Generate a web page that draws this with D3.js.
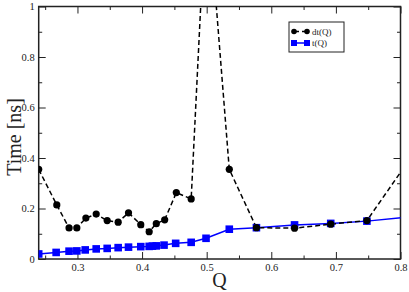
<!DOCTYPE html>
<html>
<head>
<meta charset="utf-8">
<script src="https://cdn.jsdelivr.net/npm/d3@7"></script>
<style>
  body { margin: 0; background: #fff; }
  svg { display: block; }
  text { font-family: "Liberation Serif", "DejaVu Serif", serif; }
</style>
</head>
<body>
<div id="graph"></div>
<script>
// dt(Q) series (black circles, dashed)
var dtQ   = [0.24, 0.268, 0.287, 0.299, 0.313, 0.329, 0.346, 0.363, 0.379, 0.398, 0.411, 0.422, 0.435, 0.453, 0.476, 0.5, 0.535, 0.577, 0.636, 0.692, 0.748, 0.81];
var dtVal = [0.355, 0.214, 0.123, 0.123, 0.162, 0.178, 0.152, 0.146, 0.183, 0.136, 0.108, 0.14, 0.155, 0.263, 0.238, 1.48, 0.355, 0.124, 0.122, 0.138, 0.152, 0.38];

// t(Q) series (blue squares, solid)
var tQ   = [0.24, 0.267, 0.287, 0.299, 0.312, 0.329, 0.346, 0.363, 0.379, 0.398, 0.411, 0.416, 0.422, 0.434, 0.452, 0.476, 0.499, 0.535, 0.577, 0.636, 0.692, 0.748, 0.81];
var tVal = [0.02, 0.026, 0.031, 0.032, 0.036, 0.04, 0.042, 0.045, 0.047, 0.049, 0.05, 0.051, 0.052, 0.055, 0.062, 0.066, 0.082, 0.118, 0.124, 0.135, 0.141, 0.15, 0.166];

var xTicks = [0.3, 0.4, 0.5, 0.6, 0.7, 0.8];
var yTicks = [0, 0.2, 0.4, 0.6, 0.8, 1];
var legendLabels = ["dt(Q)", "t(Q)"];

var width = 409, height = 292;
var margin = {left: 38.7, right: 8.5, top: 6.5, bottom: 33};

var svg = d3.select("#graph").append("svg")
  .attr("width", width)
  .attr("height", height);

var x = d3.scaleLinear().domain([0.24, 0.8]).range([margin.left, width - margin.right]);
var y = d3.scaleLinear().domain([0, 1]).range([height - margin.bottom, margin.top]);

svg.append("clipPath").attr("id", "clip")
  .append("rect")
  .attr("x", x(0.24)).attr("y", y(1))
  .attr("width", x(0.8) - x(0.24)).attr("height", y(0) - y(1));

var fmt = function(d) { return d === 0 ? "0" : d === 1 ? "1" : d3.format(".1f")(d); };
var minorX = d3.range(0.25, 0.801, 0.05).filter(function(d) { return Math.abs(d * 10 - Math.round(d * 10)) > 0.01; });
var minorY = [0.1, 0.3, 0.5, 0.7, 0.9];

// axes with inward ticks on all sides
function styleAxis(g) {
  g.select(".domain").remove();
  g.selectAll("line").attr("stroke", "#222").attr("stroke-width", 1);
  g.selectAll("text").attr("font-size", 10.5).attr("fill", "#222");
}

svg.append("g").attr("transform", "translate(0," + y(0) + ")")
  .call(d3.axisBottom(x).tickValues(xTicks).tickFormat(fmt).tickSizeInner(-7).tickPadding(5))
  .call(styleAxis);
svg.append("g").attr("transform", "translate(0," + y(0) + ")")
  .call(d3.axisBottom(x).tickValues(minorX).tickFormat("").tickSizeInner(-3.5))
  .call(styleAxis);
svg.append("g").attr("transform", "translate(0," + y(1) + ")")
  .call(d3.axisTop(x).tickValues(xTicks).tickFormat("").tickSizeInner(-7))
  .call(styleAxis);
svg.append("g").attr("transform", "translate(0," + y(1) + ")")
  .call(d3.axisTop(x).tickValues(minorX).tickFormat("").tickSizeInner(-3.5))
  .call(styleAxis);

svg.append("g").attr("transform", "translate(" + x(0.24) + ",0)")
  .call(d3.axisLeft(y).tickValues(yTicks).tickFormat(fmt).tickSizeInner(-7).tickPadding(4))
  .call(styleAxis);
svg.append("g").attr("transform", "translate(" + x(0.24) + ",0)")
  .call(d3.axisLeft(y).tickValues(minorY).tickFormat("").tickSizeInner(-3.5))
  .call(styleAxis);
svg.append("g").attr("transform", "translate(" + x(0.8) + ",0)")
  .call(d3.axisRight(y).tickValues(yTicks).tickFormat("").tickSizeInner(-7))
  .call(styleAxis);
svg.append("g").attr("transform", "translate(" + x(0.8) + ",0)")
  .call(d3.axisRight(y).tickValues(minorY).tickFormat("").tickSizeInner(-3.5))
  .call(styleAxis);

// frame
svg.append("rect")
  .attr("x", x(0.24)).attr("y", y(1))
  .attr("width", x(0.8) - x(0.24)).attr("height", y(0) - y(1))
  .attr("fill", "none").attr("stroke", "#222").attr("stroke-width", 1.5);

var plot = svg.append("g").attr("clip-path", "url(#clip)");

var dtData = dtQ.map(function(q, i) { return [q, dtVal[i]]; });
var tData = tQ.map(function(q, i) { return [q, tVal[i]]; });
var line = d3.line().x(function(d) { return x(d[0]); }).y(function(d) { return y(d[1]); });

// t(Q) blue line + squares
plot.append("path").datum(tData)
  .attr("d", line).attr("fill", "none")
  .attr("stroke", "#0000ff").attr("stroke-width", 1.5);

// dt(Q) dashed line
plot.append("path").datum(dtData)
  .attr("d", line).attr("fill", "none")
  .attr("stroke", "#000").attr("stroke-width", 1.5)
  .attr("stroke-dasharray", "5,3");

plot.selectAll(".sq").data(tData).enter().append("rect")
  .attr("x", function(d) { return x(d[0]) - 3.8; })
  .attr("y", function(d) { return y(d[1]) - 3.8; })
  .attr("width", 7.6).attr("height", 7.6)
  .attr("fill", "#0000ff");

plot.selectAll(".dot").data(dtData).enter().append("circle")
  .attr("cx", function(d) { return x(d[0]); })
  .attr("cy", function(d) { return y(d[1]); })
  .attr("r", 3.6)
  .attr("fill", "#000");

// legend
var lg = svg.append("g").attr("transform", "translate(289,22)");
lg.append("rect").attr("width", 55).attr("height", 30)
  .attr("fill", "#fff").attr("stroke", "#222").attr("stroke-width", 1);
lg.append("line").attr("x1", 5).attr("x2", 18).attr("y1", 9.5).attr("y2", 9.5)
  .attr("stroke", "#000").attr("stroke-width", 1.5).attr("stroke-dasharray", "5,3");
lg.selectAll(".lc").data([5, 18]).enter().append("circle")
  .attr("cx", function(d) { return d; }).attr("cy", 9.5).attr("r", 2.8).attr("fill", "#000");
lg.append("line").attr("x1", 5).attr("x2", 18).attr("y1", 21).attr("y2", 21)
  .attr("stroke", "#0000ff").attr("stroke-width", 1.5);
lg.selectAll(".ls").data([5, 18]).enter().append("rect")
  .attr("x", function(d) { return d - 3; }).attr("y", 18).attr("width", 6).attr("height", 6)
  .attr("fill", "#0000ff");
lg.selectAll(".lt").data(legendLabels).enter().append("text")
  .attr("x", 23).attr("y", function(d, i) { return 12.5 + i * 11.5; })
  .attr("font-size", 9).attr("fill", "#222")
  .text(function(d) { return d; });

// axis titles
svg.append("text")
  .attr("transform", "translate(20.5,137) rotate(-90)")
  .attr("text-anchor", "middle")
  .attr("font-size", 20).attr("fill", "#222")
  .text("Time [ns]");
svg.append("text")
  .attr("x", (x(0.24) + x(0.8)) / 2).attr("y", 287)
  .attr("text-anchor", "middle")
  .attr("font-size", 20).attr("fill", "#222")
  .text("Q");
</script>
</body>
</html>
